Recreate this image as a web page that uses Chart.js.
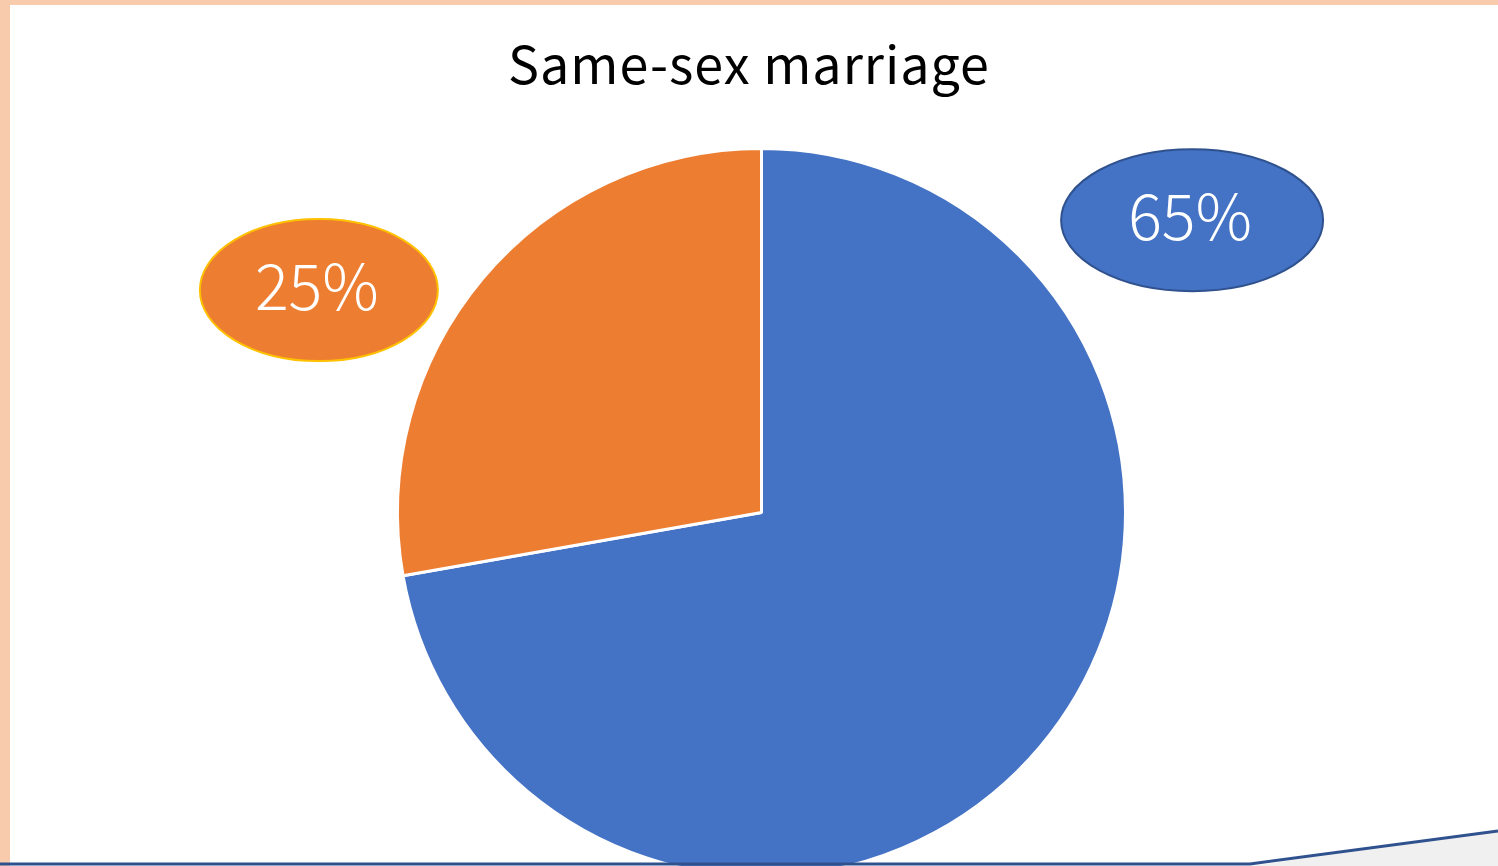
<!DOCTYPE html>
<html>
<head>
<meta charset="utf-8">
<script src="https://cdn.jsdelivr.net/npm/chart.js@4/dist/chart.umd.min.js"></script>
<style>
  html, body { margin: 0; padding: 0; overflow: hidden; background: #fff; }
  #wrap { position: relative; width: 1498px; height: 866px; overflow: hidden; }
  #pie { position: absolute; left: 0; top: 0; }
  #frame { position: absolute; left: 0; top: 0; pointer-events: none; }
</style>
</head>
<body>
<div id="wrap">
  <canvas id="pie" width="1498" height="900"></canvas>
  <svg id="frame" width="1498" height="866">
    <rect x="0" y="0" width="10" height="866" fill="#F8CBAD"/>
    <rect x="0" y="0" width="1498" height="5" fill="#F8CBAD"/>
    <polygon points="1250,866 1498,831 1498,866" fill="#F0F0F0"/>
    <polyline points="0,864 1250,864 1498,831" fill="none" stroke="#2F528F" stroke-width="3"/>
  </svg>
</div>
<script>
// chart data
const chartTitle = 'Same-sex marriage';
const values = [65, 25];
const labelTexts = ['65%', '25%'];
const sliceColors = ['#4472C4', '#ED7D31'];
const bubbleBorders = ['#2F528F', '#FFC000'];
// where the label bubbles sit, relative to pie centre (in radii)
const bubbleOffsets = [[1.183, -0.803], [-1.216, -0.611]];

// title centred on the whole canvas (the pie is off-centre)
const pageTitle = {
  id: 'pageTitle',
  afterDraw(chart) {
    const ctx = chart.ctx;
    ctx.save();
    ctx.fillStyle = '#000';
    ctx.font = '400 52px "Noto Sans CJK JP"';
    ctx.letterSpacing = '1px';
    ctx.textAlign = 'center';
    ctx.textBaseline = 'middle';
    ctx.fillText(chartTitle, chart.width / 2, 64);
    ctx.restore();
  }
};

// draws the ellipse labels
const bubbleLabels = {
  id: 'bubbleLabels',
  afterDatasetsDraw(chart) {
    const arc = chart.getDatasetMeta(0).data[0];
    const r = arc.outerRadius;
    const ctx = chart.ctx;
    ctx.save();
    labelTexts.forEach((txt, i) => {
      const cx = arc.x + bubbleOffsets[i][0] * r;
      const cy = arc.y + bubbleOffsets[i][1] * r;
      const rx = i == 0 ? 131 : 119;
      ctx.beginPath();
      ctx.ellipse(cx, cy, rx, 71, 0, 0, Math.PI * 2);
      ctx.fillStyle = sliceColors[i];
      ctx.fill();
      ctx.lineWidth = 2;
      ctx.strokeStyle = bubbleBorders[i];
      ctx.stroke();
      ctx.fillStyle = '#fff';
      ctx.font = '300 63px "Noto Sans CJK JP"';
      ctx.textAlign = 'center';
      ctx.textBaseline = 'middle';
      ctx.fillText(txt, cx - 2, cy - 4);
    });
    ctx.restore();
  }
};

const ctx = document.getElementById('pie');
new Chart(ctx, {
  type: 'pie',
  data: {
    labels: labelTexts,
    datasets: [{
      data: values,
      backgroundColor: sliceColors,
      borderColor: '#ffffff',
      borderWidth: 3
    }]
  },
  options: {
    responsive: false,
    animation: false,
    events: [],
    layout: {
      padding: { left: 396, right: 371, top: 147, bottom: 22 }
    },
    plugins: {
      legend: { display: false },
      tooltip: { enabled: false },
      title: { display: false }
    }
  },
  plugins: [bubbleLabels, pageTitle]
});
</script>
</body>
</html>
